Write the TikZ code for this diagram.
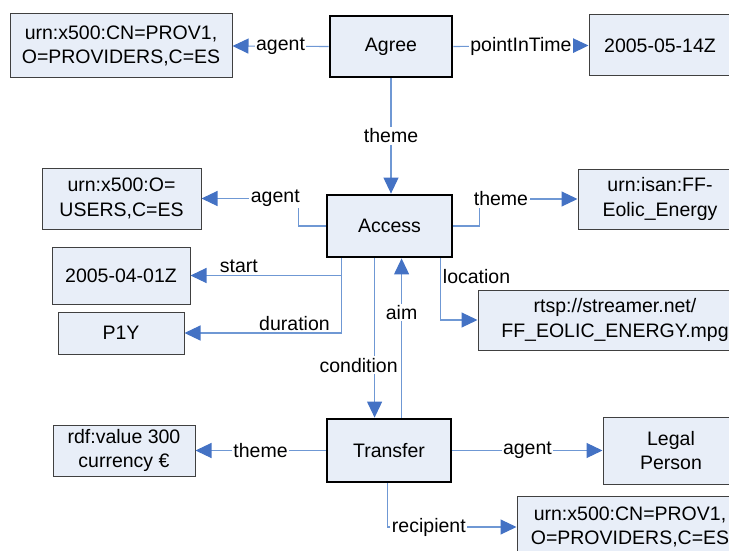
\documentclass[tikz,border=0pt]{standalone}
\usepackage{fontspec}
\setmainfont{Liberation Sans}
\usetikzlibrary{arrows.meta}
\definecolor{boxfill}{HTML}{E8EEF8}
\definecolor{boxline}{HTML}{404040}
\definecolor{connc}{HTML}{6F98D4}
\definecolor{arrowc}{HTML}{4472C4}
\begin{document}
\begin{tikzpicture}[x=1pt,y=-1pt, font=\fontsize{19.5}{24.5}\selectfont,
  box/.style={draw=boxline, fill=boxfill, line width=1pt, align=center, inner sep=0pt},
  mainbox/.style={draw=black, fill=boxfill, line width=2.8pt, align=center, inner sep=0pt},
  conn/.style={draw=connc, line width=1.1pt, -{Triangle[length=16pt,width=15pt,color=arrowc]}},
  lbl/.style={fill=white, inner sep=1.5pt}]
\useasboundingbox (0,0) rectangle (729,551);
% nodes
\node[box, minimum width=222pt, minimum height=64pt] (p1) at (121,46) {urn:x500:CN=PROV1,\\O=PROVIDERS,C=ES};
\node[mainbox, minimum width=122pt, minimum height=61pt] (agree) at (391,46.5) {Agree};
\node[box, minimum width=142pt, minimum height=61pt] (t1) at (660,45.5) {2005-05-14Z};
\node[mainbox, minimum width=125pt, minimum height=62pt] (access) at (389.5,226) {Access};
\node[box, minimum width=159pt, minimum height=61pt] (users) at (121.5,198.5) {urn:x500:O=\\USERS,C=ES};
\node[box, minimum width=138pt, minimum height=57pt] (t2) at (121,275.5) {2005-04-01Z};
\node[box, minimum width=126pt, minimum height=42pt] (p1y) at (121,333) {P1Y};
\node[box, minimum width=164pt, minimum height=60pt] (isan) at (660,199) {urn:isan:FF-\\Eolic\_Energy};
\node[box, minimum width=274pt, minimum height=60pt] (rtsp) at (615,320) {rtsp://streamer.net/\\FF\_EOLIC\_ENERGY.mpg};
\node[mainbox, minimum width=124pt, minimum height=63pt] (transfer) at (389,450.5) {Transfer};
\node[box, minimum width=142pt, minimum height=51pt] (rdf) at (124,450.5) {rdf:value 300\\currency €};
\node[box, minimum width=136pt, minimum height=67pt] (legal) at (671,450.5) {Legal\\Person};
\node[box, minimum width=226pt, minimum height=62pt] (prov2) at (630,527) {urn:x500:CN=PROV1,\\O=PROVIDERS,C=ES};
% connectors
\draw[conn] (agree.west) -- node[lbl]{agent} (p1.east);
\draw[conn] (agree.east) -- node[lbl]{pointInTime} (t1.west);
\draw[conn] (agree.south) -- node[lbl]{theme} (agree.south |- access.north);
\draw[conn] (access.west) -- ++(-27,0) |- node[lbl,pos=0.62]{agent} (users.east);
\draw[conn] (access.east) -- ++(26,0) |- node[lbl,pos=0.61]{theme} (isan.west);
\draw[conn] ([xshift=16pt]access.south west) |- node[above,pos=0.84,inner sep=2pt]{start} (t2.east);
\draw[conn] ([xshift=16pt]access.south west) |- node[above,pos=0.65,inner sep=2pt]{duration} (p1y.east);
\draw[conn] ([xshift=-13pt]access.south east) |- node[pos=0.15,anchor=west,inner sep=2pt]{location} (rtsp.west);
\draw[conn] ([xshift=49pt]access.south west) -- node[lbl,pos=0.67,xshift=-16pt]{condition} ([xshift=49pt]transfer.north west);
\draw[conn] ([xshift=76pt]transfer.north west) -- node[lbl,pos=0.66]{aim} ([xshift=76pt]access.south west);
\draw[conn] (transfer.west) -- node[lbl]{theme} (rdf.east);
\draw[conn] (transfer.east) -- node[lbl]{agent} (legal.west);
\draw[conn] ([xshift=62pt]transfer.south west) |- node[lbl,pos=0.66]{recipient} (prov2.west);
\end{tikzpicture}
\end{document}
